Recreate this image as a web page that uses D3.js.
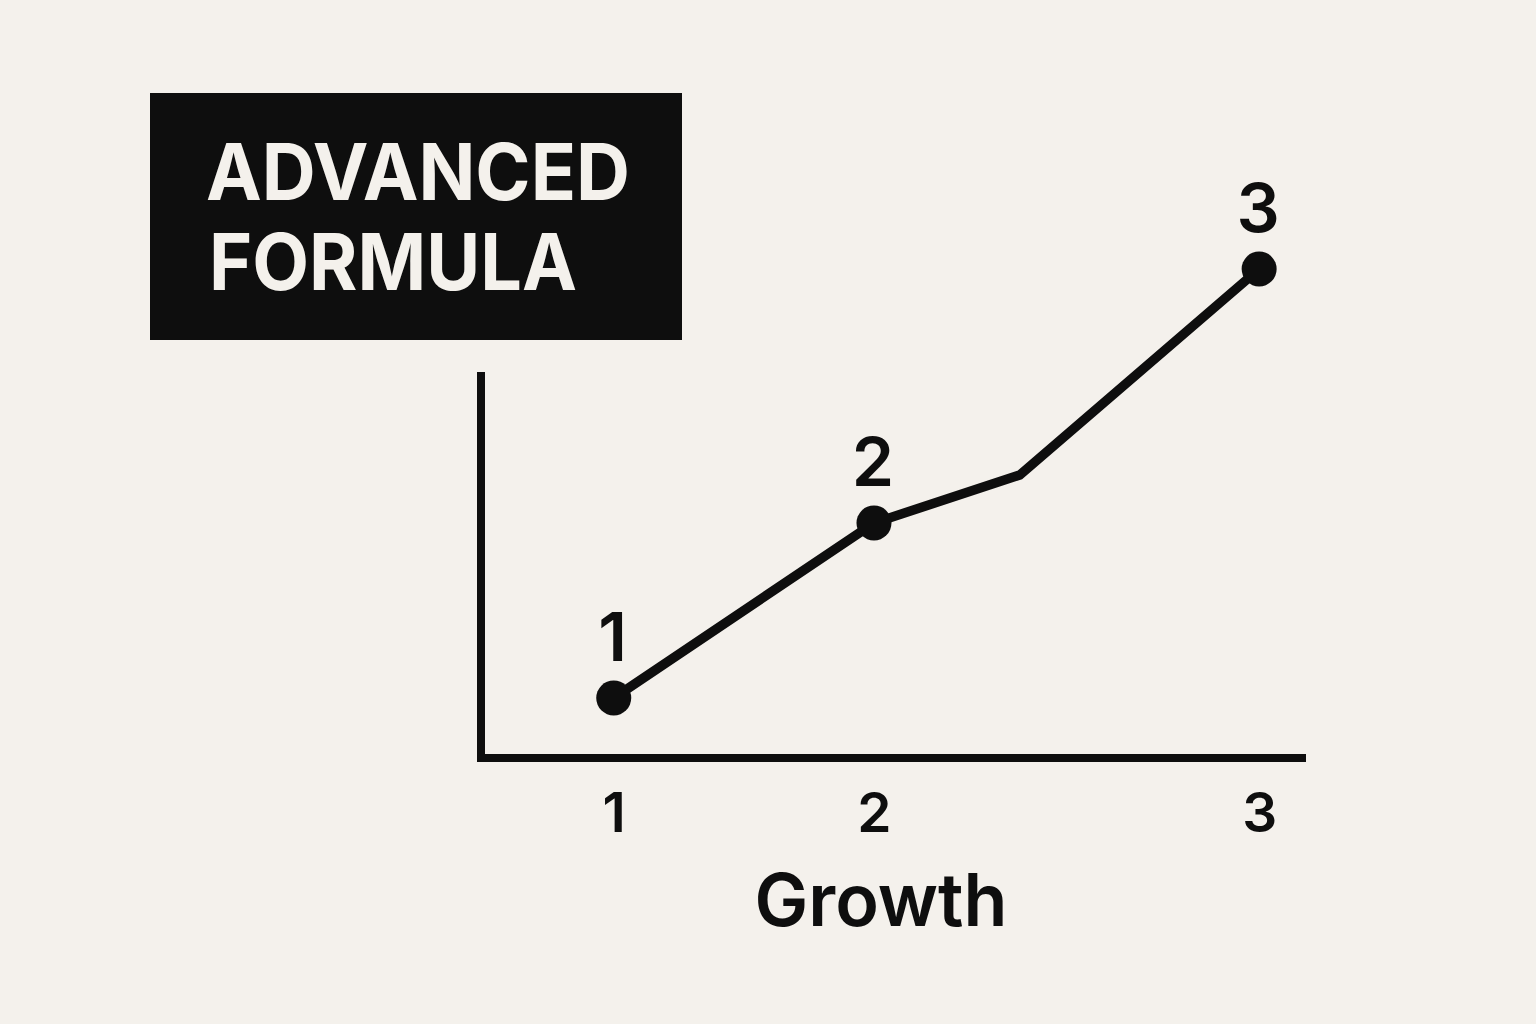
<!DOCTYPE html>
<html>
<head>
<meta charset="utf-8">
<script src="https://cdn.jsdelivr.net/npm/d3@7"></script>
<style>
  html, body { margin: 0; padding: 0; background: #f4f1ec; }
  svg { display: block; }
</style>
</head>
<body>
<div id="chart"></div>
<script>
// values (x in "step" units, y in growth units)
var titleLines = ["ADVANCED", "FORMULA"];
var xValues = [1, 2, 2.56, 3.48];
var yValues = [0.6, 2.35, 2.83, 4.89];
var pointLabels = ["1", "2", null, "3"];   // vertex 3 has no marker
var tickValues = [1, 2, 3.48];
var tickLabels = ["1", "2", "3"];
var xTitle = "Growth";

var width = 1536, height = 1024;
var ink = "#0e0e0e";
var font = "Inter, 'Liberation Sans', Arial, sans-serif";

var svg = d3.select("#chart").append("svg")
  .attr("width", width)
  .attr("height", height);

svg.append("rect")
  .attr("width", width).attr("height", height)
  .attr("fill", "#f4f1ec");

var x = d3.scaleLinear().domain([0.49, 3.66]).range([481, 1306]);
var y = d3.scaleLinear().domain([0, 3.86]).range([758, 372]);

// title block
var title = svg.append("g");
title.append("rect")
  .attr("x", 150).attr("y", 93)
  .attr("width", 532).attr("height", 247)
  .attr("fill", ink);
var titleWidths = [424, 368];
title.selectAll("text")
  .data(titleLines)
  .enter().append("text")
  .attr("x", (d, i) => 206 + i * 3)
  .attr("y", (d, i) => 200 + i * 90)
  .attr("fill", "#f4f1ec")
  .style("font-family", font)
  .style("font-weight", 700)
  .style("font-size", "78px")
  .attr("textLength", (d, i) => titleWidths[i])
  .attr("lengthAdjust", "spacingAndGlyphs")
  .text(d => d);

// axes
var xAxis = d3.axisBottom(x)
  .tickValues(tickValues)
  .tickFormat((d, i) => tickLabels[i])
  .tickSize(0)
  .tickSizeOuter(0)
  .tickPadding(35);

var gx = svg.append("g")
  .attr("transform", "translate(0," + y(0) + ")")
  .call(xAxis);
gx.select(".domain")
  .attr("stroke", ink)
  .attr("stroke-width", 8)
  .attr("d", "M" + (x.range()[0] - 4) + ",0H" + x.range()[1]);
gx.selectAll(".tick text")
  .attr("fill", ink)
  .style("font-family", font)
  .style("font-weight", 600)
  .style("font-size", "55px");

svg.append("line")
  .attr("x1", x(0.49)).attr("x2", x(0.49))
  .attr("y1", y(3.86)).attr("y2", y(0) + 4)
  .attr("stroke", ink)
  .attr("stroke-width", 8);

// series
var pts = xValues.map((v, i) => ({x: v, y: yValues[i], label: pointLabels[i]}));

var line = d3.line()
  .x(d => x(d.x))
  .y(d => y(d.y));

svg.append("path")
  .datum(pts)
  .attr("d", line)
  .attr("fill", "none")
  .attr("stroke", ink)
  .attr("stroke-width", 9.5)
  .attr("stroke-linejoin", "miter");

var marked = pts.filter(d => d.label);

svg.append("g")
  .selectAll("circle")
  .data(marked)
  .enter().append("circle")
  .attr("cx", d => x(d.x))
  .attr("cy", d => y(d.y))
  .attr("r", 17.5)
  .attr("fill", ink);

svg.append("g")
  .selectAll("text")
  .data(marked)
  .enter().append("text")
  .attr("x", d => x(d.x) - 1)
  .attr("y", d => y(d.y) - 37)
  .attr("text-anchor", "middle")
  .attr("fill", ink)
  .style("font-family", font)
  .style("font-weight", 600)
  .style("font-size", "68px")
  .text(d => d.label);

// axis title
svg.append("text")
  .attr("x", 881)
  .attr("y", 926)
  .attr("text-anchor", "middle")
  .attr("fill", ink)
  .style("font-family", font)
  .style("font-weight", 600)
  .style("font-size", "73px")
  .attr("textLength", 253)
  .attr("lengthAdjust", "spacingAndGlyphs")
  .text(xTitle);
</script>
</body>
</html>
